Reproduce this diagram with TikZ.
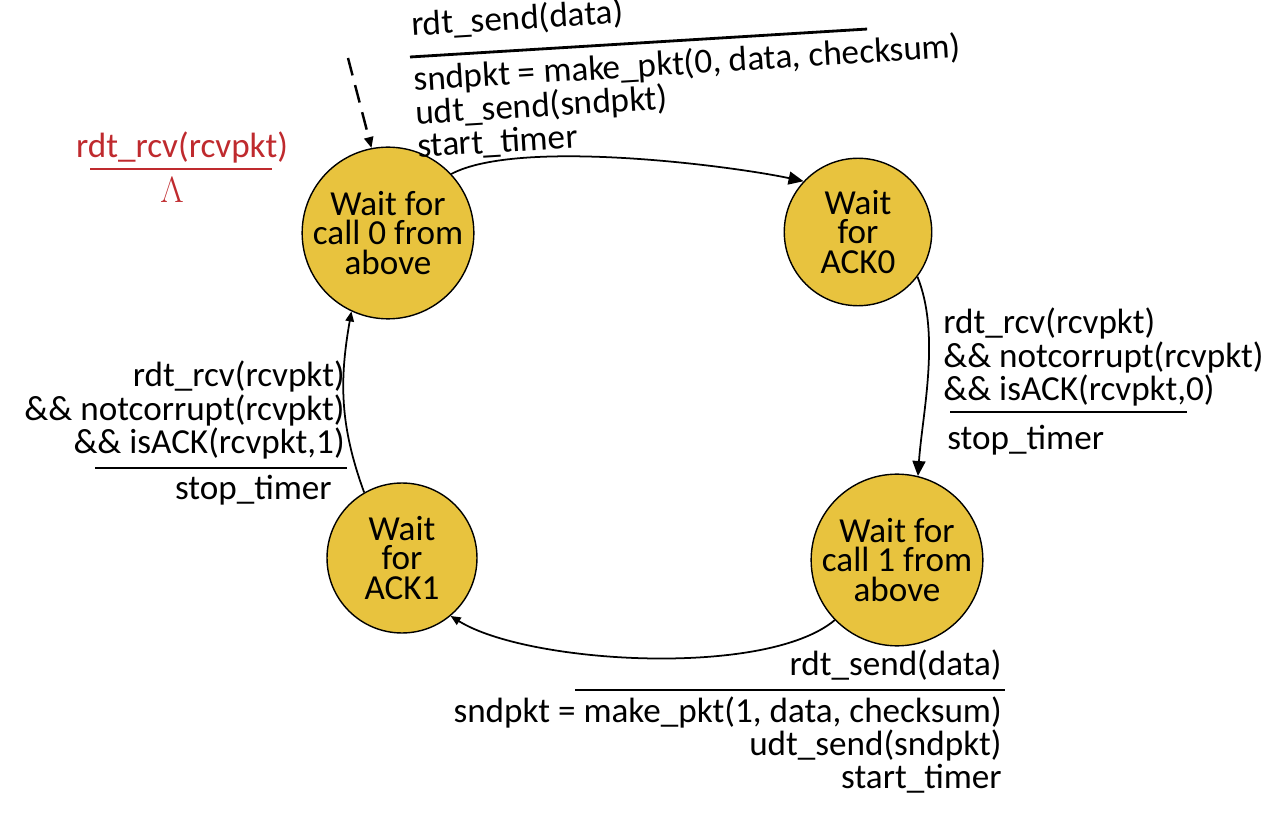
\documentclass[tikz,border=0pt]{standalone}
\usepackage{fontspec}
\setmainfont{Carlito}
\usepackage{tikz}
\usetikzlibrary{arrows.meta,positioning}
\definecolor{stategold}{HTML}{E8C33E}
\definecolor{lamred}{HTML}{BF2A2E}
\tikzset{
  state/.style={circle, draw=black, line width=0.8pt, fill=stategold, inner sep=0pt,
    align=center, font=\fontsize{20}{17}\selectfont},
  lbl/.style={inner sep=0pt, font=\fontsize{20}{19}\selectfont},
  trans/.style={line width=1pt, -{Triangle[length=0.3cm,width=0.26cm]}},
  smalltrans/.style={line width=1pt, -{Triangle[length=0.2cm,width=0.17cm]}},
  bar/.style={line width=1.6pt}
}

\begin{document}
\begin{tikzpicture}[x=0.02cm, y=-0.02cm]
    \useasboundingbox (0,0) rectangle (1276,824);
    % states
    \node[state, minimum size=3.1cm] (waitzero) at (388,233) {Wait for\\call 0 from\\above};
    \node[state, minimum size=2.95cm] (ackzero) at (858,232) {Wait\\for\\ACK0};
    \node[state, minimum size=3.15cm] (waitone) at (897,560) {Wait for\\call 1 from\\above};
    \node[state, minimum size=3.0cm] (ackone) at (402,558) {Wait\\for\\ACK1};
    % initial arrow
    \coordinate (init) at (348,58);
    \draw[dashed, dash pattern=on 0.36cm off 0.2cm, line width=1.4pt,
      -{Triangle[length=0.22cm,width=0.18cm]}] (init) -- (waitzero.101);
    % transitions
    \draw[trans] (waitzero.43) to[out=28, in=168, looseness=0.55] (ackzero.137);
    \draw[trans] (ackzero.-37) to[out=-68, in=86, looseness=0.8] (waitone.76);
    \draw[smalltrans] (waitone.224) to[out=-140, in=-32, looseness=0.6] (ackone.-50);
    \draw[smalltrans] (ackone.120) to[out=110, in=-100] (waitzero.245);
    % self loop label (red)
    \node[lbl, text=lamred] (rcvnull) at (182,147) {rdt\_rcv(rcvpkt)};
    \draw[bar, lamred] (90,169) -- (272,169);
    \node[lbl, text=lamred] (lambda) at (172,190) {$\Lambda$};
    % top label, slightly tilted
    \begin{scope}[shift={(410,57)}, rotate=3.5, transform shape]
      \node[lbl, anchor=base west] (sendzero) at (3,-21) {rdt\_send(data)};
      \draw[bar] (0,0) -- (458,0);
      \node[lbl, anchor=north west, align=left] (actzero) at (2,8)
        {sndpkt = make\_pkt(0, data, checksum)\\udt\_send(sndpkt)\\start\_timer};
    \end{scope}
    % right label
    \node[lbl, anchor=west, align=left] (ackzerorcv) at (943,357)
      {rdt\_rcv(rcvpkt)\\\&\& notcorrupt(rcvpkt)\\\&\& isACK(rcvpkt,0)};
    \draw[bar] (950,412) -- (1187,412);
    \node[lbl, anchor=west] (stopzero) at (947,440) {stop\_timer};
    % left label
    \node[lbl, anchor=east, align=right] (ackonercv) at (345,410)
      {rdt\_rcv(rcvpkt)\\\&\& notcorrupt(rcvpkt)\\\&\& isACK(rcvpkt,1)};
    \draw[bar] (95,468) -- (347,468);
    \node[lbl, anchor=east] (stopone) at (332,490) {stop\_timer};
    % bottom label
    \node[lbl, anchor=east] (sendone) at (1002,665) {rdt\_send(data)};
    \draw[bar] (575,690) -- (1005,690);
    \node[lbl, anchor=east, align=right] (actone) at (1002,745)
      {sndpkt = make\_pkt(1, data, checksum)\\udt\_send(sndpkt)\\start\_timer};
\end{tikzpicture}
\end{document}
